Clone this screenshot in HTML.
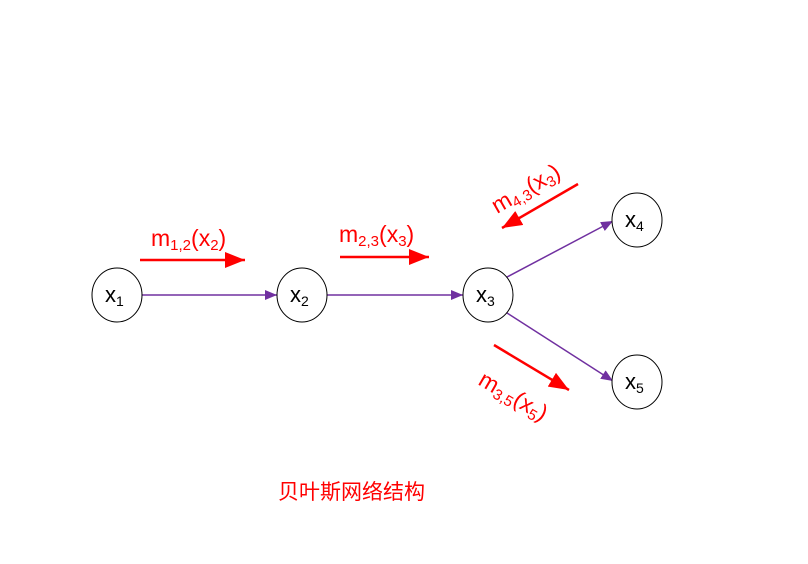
<!DOCTYPE html>
<html><head><meta charset="utf-8"><style>
body{margin:0;background:#fff;width:808px;height:559px;overflow:hidden}
text{font-family:"Liberation Sans","Noto Sans CJK SC",sans-serif}
</style></head><body>
<svg width="808" height="559" viewBox="0 0 808 559" xmlns="http://www.w3.org/2000/svg">
<defs>
<marker id="pa" markerWidth="12" markerHeight="10" refX="12" refY="5" orient="auto" markerUnits="userSpaceOnUse"><path d="M0,0 L12,5 L0,10 Z" fill="#7030a0"/></marker>
<marker id="ra" markerWidth="20" markerHeight="16" refX="20" refY="8" orient="auto" markerUnits="userSpaceOnUse"><path d="M0,0 L20,8 L0,16 Z" fill="#f00"/></marker>
</defs>
<g stroke="#7030a0" stroke-width="1.5" fill="none">
<line x1="142" y1="295" x2="277" y2="295" marker-end="url(#pa)"/>
<line x1="327" y1="295" x2="463" y2="295" marker-end="url(#pa)"/>
<line x1="507" y1="277" x2="613" y2="221" marker-end="url(#pa)"/>
<line x1="507" y1="313" x2="613" y2="381" marker-end="url(#pa)"/>
</g>
<g stroke="#f00" stroke-width="2.5" fill="none">
<line x1="140" y1="260" x2="245" y2="260" marker-end="url(#ra)"/>
<line x1="340" y1="257" x2="429" y2="257" marker-end="url(#ra)"/>
<line x1="578" y1="184" x2="502" y2="228" marker-end="url(#ra)"/>
<line x1="494" y1="345" x2="569" y2="390" marker-end="url(#ra)"/>
</g>
<g stroke="#000" stroke-width="1" fill="#fff">
<ellipse cx="117" cy="295" rx="25" ry="27"/>
<ellipse cx="302" cy="295" rx="25" ry="27"/>
<ellipse cx="488" cy="295" rx="25" ry="27"/>
<ellipse cx="637" cy="220" rx="25" ry="27"/>
<ellipse cx="637" cy="382" rx="25" ry="27"/>
</g>
<g font-size="22" fill="#000">
<text x="105" y="302">x<tspan font-size="14" dy="4">1</tspan></text>
<text x="290" y="302">x<tspan font-size="14" dy="4">2</tspan></text>
<text x="476" y="302">x<tspan font-size="14" dy="4">3</tspan></text>
<text x="625" y="227">x<tspan font-size="14" dy="4">4</tspan></text>
<text x="625" y="389">x<tspan font-size="14" dy="4">5</tspan></text>
</g>
<g font-size="23" fill="#f00">
<text x="151" y="246">m<tspan font-size="15" dy="4">1,2</tspan><tspan dy="-4">(x</tspan><tspan font-size="15" dy="4">2</tspan><tspan dy="-4">)</tspan></text>
<text x="339" y="242">m<tspan font-size="15" dy="4">2,3</tspan><tspan dy="-4">(x</tspan><tspan font-size="15" dy="4">3</tspan><tspan dy="-4">)</tspan></text>
<text transform="translate(497,214) rotate(-30)">m<tspan font-size="15" dy="4">4,3</tspan><tspan dy="-4">(x</tspan><tspan font-size="15" dy="4">3</tspan><tspan dy="-4">)</tspan></text>
<text transform="translate(477,384) rotate(30)">m<tspan font-size="15" dy="4">3,5</tspan><tspan dy="-4">(x</tspan><tspan font-size="15" dy="4">5</tspan><tspan dy="-4">)</tspan></text>
<text x="278" y="499" font-size="21">贝叶斯网络结构</text>
</g>
</svg>
</body></html>
